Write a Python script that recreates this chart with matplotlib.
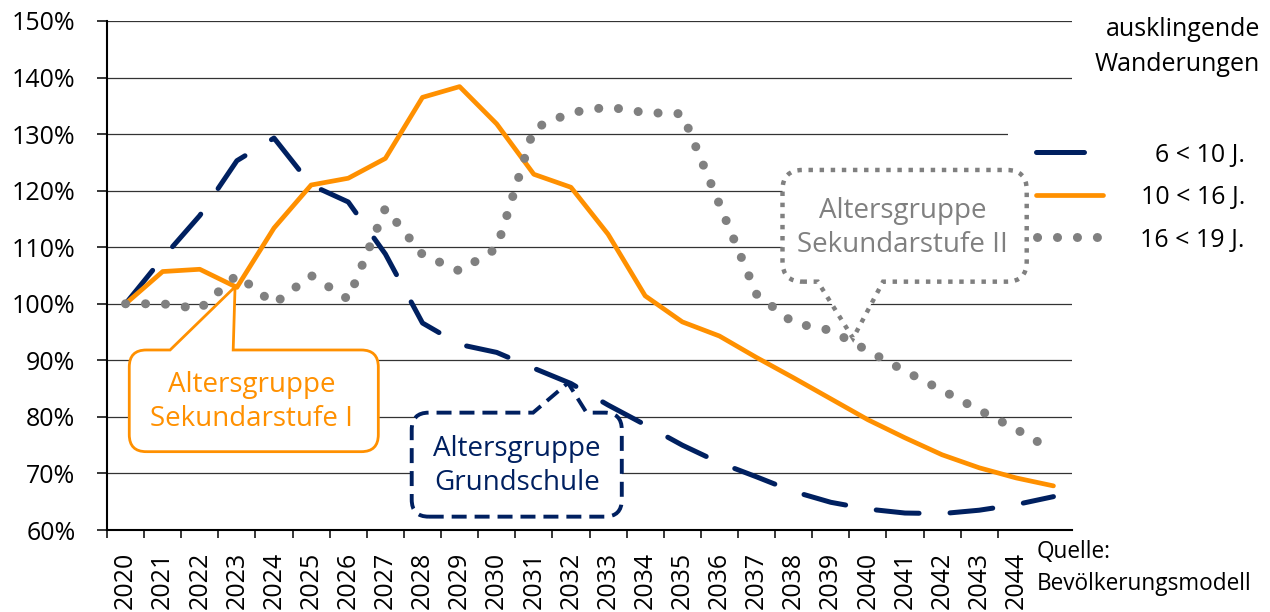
import numpy as np
import matplotlib.pyplot as plt
from matplotlib.path import Path
from matplotlib.patches import PathPatch, Rectangle
from matplotlib.lines import Line2D

plt.rcParams['font.family'] = ['Open Sans', 'DejaVu Sans']

years = list(range(2020, 2046))
# Index 2020 = 100 %, Szenario "ausklingende Wanderungen"
grundschule = [100.0, 108.1, 115.6, 125.3, 129.3, 121.0, 118.0, 108.8, 96.6, 92.8,
               91.4, 88.6, 85.9, 82.1, 78.6, 75.0, 71.9, 69.4, 66.8, 64.9,
               63.7, 63.0, 62.9, 63.5, 64.5, 65.9]          # 6 < 10 J.
sek1 = [100.0, 105.7, 106.1, 102.9, 113.4, 121.0, 122.2, 125.7, 136.5, 138.4,
        131.8, 122.9, 120.6, 112.3, 101.4, 96.8, 94.3, 90.5, 86.9, 83.2,
        79.5, 76.3, 73.3, 71.0, 69.2, 67.8]                 # 10 < 16 J.
sek2 = [100.0, 100.0, 99.1, 105.1, 100.0, 105.0, 100.8, 116.9, 108.7, 105.8,
        109.8, 131.0, 133.8, 134.8, 133.8, 133.6, 117.6, 101.7, 96.6, 95.3,
        91.7, 88.1, 84.7, 81.2, 77.8, 74.0]                 # 16 < 19 J.
labels = ['6 < 10 J.', '10 < 16 J.', '16 < 19 J.']
yticks = list(range(60, 151, 10))

NAVY = '#002060'
ORANGE = '#FF9000'
GRAY = '#808080'

W, H = 1270, 612
fig = plt.figure(figsize=(W / 100, H / 100), dpi=100)
left, right, top, bottom = 107, 1072, 21, 530
ax = fig.add_axes([left / W, 1 - bottom / H, (right - left) / W, (bottom - top) / H])

x = np.arange(len(years))
ax.set_xlim(-0.5, len(years) - 0.5)
ax.set_ylim(60, 150)

# pixels per data unit, used to keep callout corners round
PX_X = (right - left) / len(years)
PX_Y = (bottom - top) / 90

navy_style = dict(color=NAVY, lw=3.6, linestyle=(0, (8.6, 6.2)), dash_capstyle='round')
orange_style = dict(color=ORANGE, lw=3.4, solid_capstyle='round', solid_joinstyle='round')
gray_style = dict(color=GRAY, lw=6.5, linestyle=(0, (0.01, 2.2)), dash_capstyle='round')

ax.plot(x, grundschule, zorder=2, **navy_style)
ax.plot(x, sek1, zorder=2.1, **orange_style)
ax.plot(x, sek2, zorder=2.2, **gray_style)

# axes, ticks, grid
ax.set_axisbelow(True)
ax.yaxis.grid(True, color='#333333', lw=0.9)
for s in ['top', 'right']:
    ax.spines[s].set_visible(False)
for s in ['left', 'bottom']:
    ax.spines[s].set_linewidth(1.5)

ax.set_yticks(yticks)
ax.set_yticklabels([f'{v}%' for v in yticks], fontsize=18)
ax.tick_params(axis='y', length=7.2, width=1.1, pad=15.5)

# year labels centred in the categories, tick marks on the borders;
# the last year gets no label because the source note sits there
ax.set_xticks(x[:-1])
ax.set_xticklabels([str(y) for y in years[:-1]], rotation=90, fontsize=18)
ax.set_xticks(x[:-1] - 0.5, minor=True)
ax.tick_params(axis='x', which='major', length=0, pad=15.5)
ax.tick_params(axis='x', which='minor', length=5.8, width=1.1)


def callout(box, base, apex, radius, side, **kw):
    x0, x1, y0, y1 = box
    rx, ry = radius / PX_X, radius / PX_Y
    M, L, C = Path.MOVETO, Path.LINETO, Path.CURVE3
    verts = [(x0 + rx, y0)]
    codes = [M]
    if side == 'bottom':
        verts += [(base[0], y0), apex, (base[1], y0)]
        codes += [L, L, L]
    verts += [(x1 - rx, y0), (x1, y0), (x1, y0 + ry), (x1, y1 - ry), (x1, y1), (x1 - rx, y1)]
    codes += [L, C, C, L, C, C]
    if side == 'top':
        verts += [(base[1], y1), apex, (base[0], y1)]
        codes += [L, L, L]
    verts += [(x0 + rx, y1), (x0, y1), (x0, y1 - ry), (x0, y0 + ry), (x0, y0), (x0 + rx, y0)]
    codes += [L, C, C, L, C, C]
    patch = PathPatch(Path(verts, codes), facecolor='white', zorder=4, clip_on=False, **kw)
    ax.add_patch(patch)


callout((0.10, 6.81, 73.85, 91.83), (1.20, 2.90), (2.95, 103.0), 17, 'top',
        edgecolor=ORANGE, lw=2.0)
ax.text(3.4, 82.6, 'Altersgruppe\nSekundarstufe I', ha='center', va='center',
        color=ORANGE, fontsize=20, zorder=5, linespacing=1.3)

callout((7.71, 13.37, 62.36, 80.75), (10.98, 12.42), (11.92, 86.0), 17, 'top',
        edgecolor=NAVY, lw=2.8, linestyle=(0, (3.85, 2.05)), capstyle='butt')
ax.text(10.55, 71.3, 'Altersgruppe\nGrundschule', ha='center', va='center',
        color=NAVY, fontsize=20, zorder=5, linespacing=1.3)

callout((17.70, 24.28, 103.91, 123.66), (18.65, 20.41), (19.60, 93.9), 20, 'bottom',
        edgecolor=GRAY, lw=3.2, linestyle=(0, (1, 1.5)), capstyle='butt')
ax.text(20.94, 113.4, 'Altersgruppe\nSekundarstufe II', ha='center', va='center',
        color=GRAY, fontsize=20, zorder=5, linespacing=1.3)


# legend on the right, laid out in figure pixels
def fx(px):
    return px / W


def fy(py):
    return 1 - py / H


ax.add_artist(Rectangle((fx(1008), fy(288)), (W - 1008) / W, (288 - 105) / H,
                        transform=fig.transFigure, facecolor='white', edgecolor='none',
                        zorder=1.5, clip_on=False))
handles = [
    Line2D([fx(1035.5), fx(1083.5)], [fy(152)] * 2, color=NAVY, lw=3.6, solid_capstyle='round'),
    Line2D([fx(1035.5), fx(1103)], [fy(195)] * 2, **orange_style),
    Line2D([fx(1037), fx(1097.5)], [fy(237)] * 2, **gray_style),
]
for h in handles:
    h.set_transform(fig.transFigure)
    h.set_clip_on(False)
    h.set_zorder(5)
    ax.add_artist(h)
for lab, base in zip(labels, [162, 204, 247]):
    fig.text(fx(1245), fy(base), lab, ha='right', va='baseline', fontsize=18)

fig.text(fx(1260), fy(36), 'ausklingende', ha='right', va='baseline', fontsize=18)
fig.text(fx(1260), fy(71), 'Wanderungen', ha='right', va='baseline', fontsize=18)

fig.text(fx(1037), fy(558), 'Quelle:', ha='left', va='baseline', fontsize=16.3)
fig.text(fx(1037), fy(590), 'Bevölkerungsmodell', ha='left', va='baseline', fontsize=16.3)

fig.savefig('out.png', dpi=100)
